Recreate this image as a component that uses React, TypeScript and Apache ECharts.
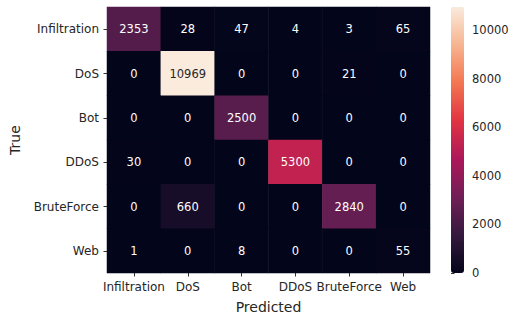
import React, { useEffect, useRef } from "react";
import * as echarts from "echarts";

const categories = ["Infiltration", "DoS", "Bot", "DDoS", "BruteForce", "Web"];
const rowInfiltration = [2353, 28, 47, 4, 3, 65];
const rowDoS = [0, 10969, 0, 0, 21, 0];
const rowBot = [0, 0, 2500, 0, 0, 0];
const rowDDoS = [30, 0, 0, 5300, 0, 0];
const rowBruteForce = [0, 660, 0, 0, 2840, 0];
const rowWeb = [1, 0, 8, 0, 0, 55];
const rows = [rowInfiltration, rowDoS, rowBot, rowDDoS, rowBruteForce, rowWeb];
const colorbarTicks = [0, 2000, 4000, 6000, 8000, 10000];
const rocket = ["#03051A", "#35193e", "#701f57", "#ad1759", "#e13342", "#f37651", "#f6b48f", "#FAEBDD"];

const FONT = "DejaVu Sans";

export default function App() {
  const ref = useRef<HTMLDivElement>(null);
  useEffect(() => {
    document.body.style.margin = "0";
    const chart = echarts.init(ref.current!, null, { renderer: "svg" });
    const vmax = Math.max(...rows.flat());
    const data: any[] = [];
    rows.forEach((row, i) =>
      row.forEach((v, j) => {
        data.push({
          value: [j, i, v],
          label: { color: v / vmax > 0.7 ? "#262626" : "#ffffff" },
        });
      })
    );
    chart.setOption({
      animation: false,
      backgroundColor: "#ffffff",
      textStyle: { fontFamily: FONT },
      grid: [
        { left: 103, top: 7, width: 327, height: 266 },
        { left: 451, top: 7, width: 13, height: 266 },
      ],
      xAxis: [
        {
          type: "category",
          data: categories,
          gridIndex: 0,
          position: "bottom",
          axisLine: { show: false },
          axisTick: { show: true, alignWithLabel: true, length: 3.5, lineStyle: { color: "#333", width: 1 } },
          axisLabel: { fontSize: 12, color: "#262626", margin: 8, fontFamily: FONT, interval: 0 },
          splitLine: { show: false },
          name: "Predicted",
          nameLocation: "middle",
          nameGap: 27,
          nameTextStyle: { fontSize: 14, color: "#262626", fontFamily: FONT },
        },
        { type: "value", gridIndex: 1, show: false },
      ],
      yAxis: [
        {
          type: "category",
          data: categories,
          gridIndex: 0,
          inverse: true,
          axisLine: { show: false },
          axisTick: { show: true, alignWithLabel: true, length: 3.5, lineStyle: { color: "#333", width: 1 } },
          axisLabel: { fontSize: 12, color: "#262626", margin: 8, fontFamily: FONT, interval: 0 },
          splitLine: { show: false },
          name: "True",
          nameLocation: "middle",
          nameGap: 85,
          nameRotate: 90,
          nameTextStyle: { fontSize: 14, color: "#262626", fontFamily: FONT },
        },
        {
          type: "value",
          gridIndex: 1,
          position: "right",
          min: 0,
          max: vmax,
          axisLine: { show: false },
          splitLine: { show: false },
          axisTick: { show: true, length: 3.5, customValues: colorbarTicks, lineStyle: { color: "#333", width: 1 } },
          axisLabel: {
            fontSize: 11.5,
            color: "#262626",
            margin: 8,
            fontFamily: FONT,
            customValues: colorbarTicks,
            formatter: (v: number) => String(v),
          },
        },
      ],
      visualMap: {
        type: "continuous",
        min: 0,
        max: vmax,
        seriesIndex: 0,
        calculable: false,
        orient: "vertical",
        left: 451,
        top: 7,
        itemWidth: 13,
        itemHeight: 266,
        padding: 0,
        text: ["", ""],
        showLabel: false,
        inRange: { color: rocket },
      },
      series: [
        {
          type: "heatmap",
          xAxisIndex: 0,
          yAxisIndex: 0,
          data,
          label: { show: true, fontSize: 11.5, fontFamily: FONT },
          itemStyle: { borderWidth: 0 },
          emphasis: { disabled: true },
        },
      ],
    });
    return () => chart.dispose();
  }, []);
  return <div ref={ref} style={{ width: 519, height: 323 }} />;
}
